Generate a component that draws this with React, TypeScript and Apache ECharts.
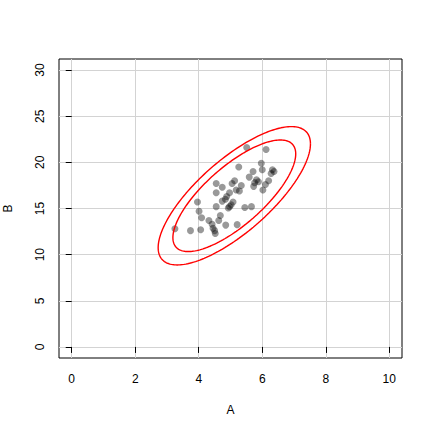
import { useEffect, useRef } from 'react';
import * as echarts from 'echarts';

const aValues = [
  5.51, 6.12, 5.97, 5.26, 6.32, 6.37, 6.28, 5.71, 6.0, 5.59,
  5.82, 5.76, 5.88, 6.2, 6.1, 6.02, 5.13, 5.05, 5.34, 4.55,
  4.74, 5.18, 5.28, 5.73, 4.55, 4.97, 4.88, 4.84, 4.74, 5.08,
  5.02, 4.97, 4.93, 4.55, 5.45, 5.66, 3.96, 4.01, 4.09, 4.32,
  4.68, 4.63, 4.42, 4.45, 4.5, 4.52, 4.85, 5.21, 3.25, 3.74,
  4.06,
];
const bValues = [
  21.6, 21.4, 19.9, 19.5, 19.2, 19.0, 18.8, 19.0, 19.2, 18.4,
  18.1, 17.8, 17.9, 18.0, 17.6, 17.0, 18.0, 17.7, 17.5, 17.7,
  17.3, 17.0, 16.9, 17.4, 16.7, 16.7, 16.3, 16.0, 15.8, 15.7,
  15.4, 15.2, 15.05, 15.2, 15.1, 15.2, 15.7, 14.7, 14.0, 13.7,
  14.25, 13.7, 13.3, 12.85, 12.6, 12.3, 13.2, 13.25, 12.8, 12.6,
  12.7,
];

const xTicks = [0, 2, 4, 6, 8, 10];
const yTicks = [0, 5, 10, 15, 20, 25, 30];

// normal-theory ellipses (levels 0.95 / 0.99), parameters
const ellipseLevels = [0.95, 0.99];
const ellipseCenter = [5.12, 16.38];
const ellipseSd = [0.79, 2.47];
const ellipseRho = 0.75;

const FONT = 'Liberation Sans, Arial, sans-serif';

const ellipsePoints = (level: number) => {
  const [mx, my] = ellipseCenter;
  const [sx, sy] = ellipseSd;
  const rho = ellipseRho;
  const r = Math.sqrt(-2 * Math.log(1 - level));
  const pts: number[][] = [];
  for (let k = 0; k <= 200; k++) {
    const t = (k / 200) * Math.PI * 2;
    pts.push([
      mx + r * sx * Math.cos(t),
      my + r * sy * (rho * Math.cos(t) + Math.sqrt(1 - rho * rho) * Math.sin(t)),
    ]);
  }
  return pts;
};

function App() {
  const chartRef = useRef(null);

  useEffect(() => {
    const myChart = echarts.init(chartRef.current, null, { renderer: 'svg' });

    const option = {
      animation: false,
      backgroundColor: '#ffffff',
      textStyle: { fontFamily: FONT },
      grid: {
        left: 59,
        top: 59,
        right: 30,
        bottom: 74,
        outerBoundsMode: 'none',
        containLabel: false,
        show: true,
        borderColor: '#000000',
        borderWidth: 1,
        backgroundColor: 'transparent',
      },
      xAxis: {
        type: 'value',
        min: -0.4,
        max: 10.4,
        name: 'A',
        nameLocation: 'middle',
        nameGap: 46,
        nameTextStyle: { color: '#000', fontSize: 12, fontFamily: FONT },
        axisLine: { show: false },
        axisTick: { show: true, inside: false, length: 6, customValues: xTicks, lineStyle: { color: '#000' } },
        axisLabel: { customValues: xTicks, color: '#000', fontSize: 12, margin: 15, fontFamily: FONT },
        splitLine: { show: true, lineStyle: { color: '#d3d3d3', width: 1 } },
      },
      yAxis: {
        type: 'value',
        min: -1.2,
        max: 31.2,
        name: 'B',
        nameLocation: 'middle',
        nameGap: 45,
        nameRotate: 90,
        nameTextStyle: { color: '#000', fontSize: 12, fontFamily: FONT },
        axisLine: { show: false },
        axisTick: { show: true, inside: false, length: 6, customValues: yTicks, lineStyle: { color: '#000' } },
        axisLabel: { customValues: yTicks, color: '#000', fontSize: 12, margin: 13, rotate: 90, fontFamily: FONT },
        splitLine: { show: true, lineStyle: { color: '#d3d3d3', width: 1 } },
      },
      series: [
        {
          type: 'scatter',
          symbol: 'circle',
          symbolSize: 7,
          itemStyle: { color: 'rgba(0,0,0,0.5)' },
          data: aValues.map((a, i) => [a, bValues[i]]),
          z: 3,
        },
        ...ellipseLevels.map((lv) => ({
          type: 'line',
          data: ellipsePoints(lv),
          showSymbol: false,
          symbol: 'none',
          lineStyle: { color: '#ff0000', width: 1.4 },
          z: 4,
        })),
      ],
    };

    myChart.setOption(option);

    return () => {
      myChart.dispose();
    };
  }, []);

  return (
    <div
      ref={chartRef}
      style={{ position: 'absolute', left: 0, top: 0, width: '432px', height: '432px' }}
    ></div>
  );
}

export default App;
